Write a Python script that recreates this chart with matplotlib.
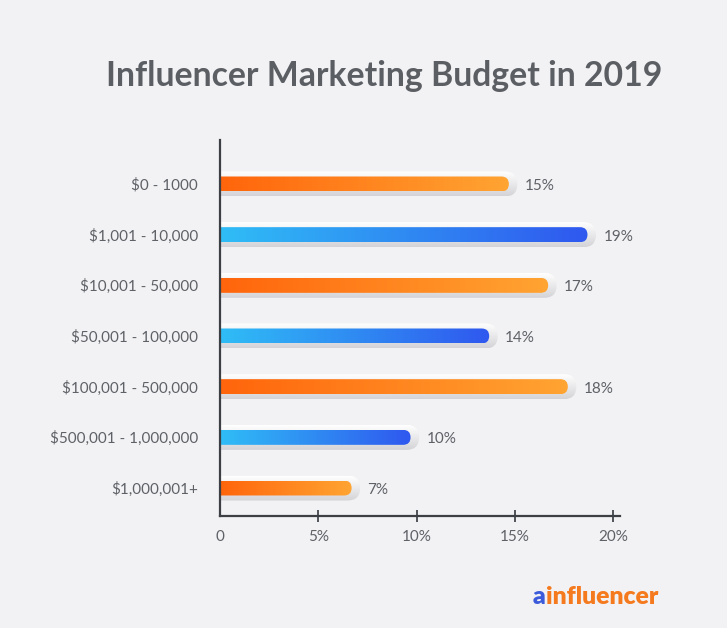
import numpy as np
import matplotlib
matplotlib.use("Agg")
import matplotlib.pyplot as plt
from matplotlib.patches import FancyBboxPatch
from matplotlib.colors import to_rgb

# ---- data ----
categories = ["$0 - 1000", "$1,001 - 10,000", "$10,001 - 50,000", "$50,001 - 100,000",
              "$100,001 - 500,000", "$500,001 - 1,000,000", "$1,000,001+"]
values = [15, 19, 17, 14, 18, 10, 7]
value_labels = ["15%", "19%", "17%", "14%", "18%", "10%", "7%"]
bar_kind = ["orange", "blue", "orange", "blue", "orange", "blue", "orange"]
xticks = [0, 5, 10, 15, 20]
xtick_labels = ["0", "5%", "10%", "15%", "20%"]
title = "Influencer Marketing Budget in 2019"

# ---- style ----
BG = "#f2f2f4"
TXT = "#5e6166"
gradients = {"orange": ("#ff650c", "#ffa432"), "blue": ("#30bdf6", "#2f58ef")}
FONT = "Lato"

W, H = 727, 628
fig = plt.figure(figsize=(W / 100, H / 100), dpi=100, facecolor=BG)

ax_l, ax_r, ax_t, ax_b = 220, 620, 140, 516
ax = fig.add_axes([ax_l / W, (H - ax_b) / H, (ax_r - ax_l) / W, (ax_b - ax_t) / H])
ax.set_facecolor(BG)

XMAX = 20.35
row_px = 50.67
ylim = (len(categories) - 1 + 28 / row_px, -44 / row_px)
px_x = (ax_r - ax_l) / XMAX          # px per x unit
px_y = (ax_b - ax_t) / (ylim[0] - ylim[1])  # px per y unit
asp = (1 / px_y) / (1 / px_x)


def grad_img(c1, c2, n=256, vertical=False):
    a = np.array(to_rgb(c1)); b = np.array(to_rgb(c2))
    t = np.linspace(0, 1, n)[:, None]
    g = a * (1 - t) + b * t
    if vertical:
        return g[:, None, :]
    return g[None, :, :]


bar_h_px, pill_h_px = 15, 25
for i, (v, kind) in enumerate(zip(values, bar_kind)):
    y = i
    # shadow pill
    ph = pill_h_px / px_y
    x0 = -1.0
    x1 = v + 2.5 / px_x
    r = (pill_h_px / 2) / px_x
    pill = FancyBboxPatch((x0, y - ph / 2), x1 - x0, ph,
                          boxstyle=f"round,pad=0,rounding_size={r}",
                          mutation_aspect=asp, transform=ax.transData,
                          facecolor="none", edgecolor="none")
    ax.add_patch(pill)
    im = ax.imshow(grad_img("#ffffff", "#d4d4d8", vertical=True),
                   extent=(x0, x1, y + ph / 2, y - ph / 2), aspect="auto",
                   interpolation="bilinear", zorder=1)
    im.set_clip_path(pill)
    # gradient bar
    bh = bar_h_px / px_y
    bx1 = v - 6 / px_x
    rb = (bar_h_px / 2) / px_x
    bar = FancyBboxPatch((x0, y - bh / 2), bx1 - x0, bh,
                         boxstyle=f"round,pad=0,rounding_size={rb}",
                         mutation_aspect=asp, transform=ax.transData,
                         facecolor="none", edgecolor="none")
    ax.add_patch(bar)
    c1, c2 = gradients[kind]
    im2 = ax.imshow(grad_img(c1, c2), extent=(0, bx1, y + bh / 2, y - bh / 2),
                    aspect="auto", interpolation="bilinear", zorder=2)
    im2.set_clip_path(bar)
    ax.text(v + 10 / px_x, y + 2 / px_y, value_labels[i], ha="left", va="center",
            fontsize=11, color=TXT, family=FONT, zorder=3)

ax.set_xlim(0, XMAX)
ax.set_ylim(*ylim)

ax.set_yticks(range(len(categories)))
ax.set_yticklabels(categories, fontsize=11, color=TXT, family=FONT)
ax.tick_params(axis="y", length=0, pad=16)

ax.set_xticks(xticks)
ax.set_xticklabels(xtick_labels, fontsize=11, color=TXT, family=FONT)
ax.tick_params(axis="x", direction="inout", length=8, width=1.3, color="#44474c", pad=6)
ax.xaxis.get_major_ticks()[0].tick1line.set_visible(False)

for s in ["top", "right"]:
    ax.spines[s].set_visible(False)
for s in ["left", "bottom"]:
    ax.spines[s].set_color("#3c3f44")
    ax.spines[s].set_linewidth(1.6)
    ax.spines[s].set_zorder(5)

fig.text(384 / W, 1 - 76 / H, title, ha="center", va="center", fontsize=24.3,
         fontweight="bold", color="#5b5e63", family=FONT)

t1 = fig.text(533 / W, 1 - 597 / H, "a", ha="left", va="center", fontsize=17.8,
              fontweight="heavy", color="#3b5bdb", family=FONT)
ax.annotate("influencer", xy=(1, 0), xycoords=t1, ha="left", va="bottom",
            fontsize=17.8, fontweight="heavy", color="#f57a1e", family=FONT,
            annotation_clip=False)

fig.savefig("out.png", dpi=100, facecolor=BG)
